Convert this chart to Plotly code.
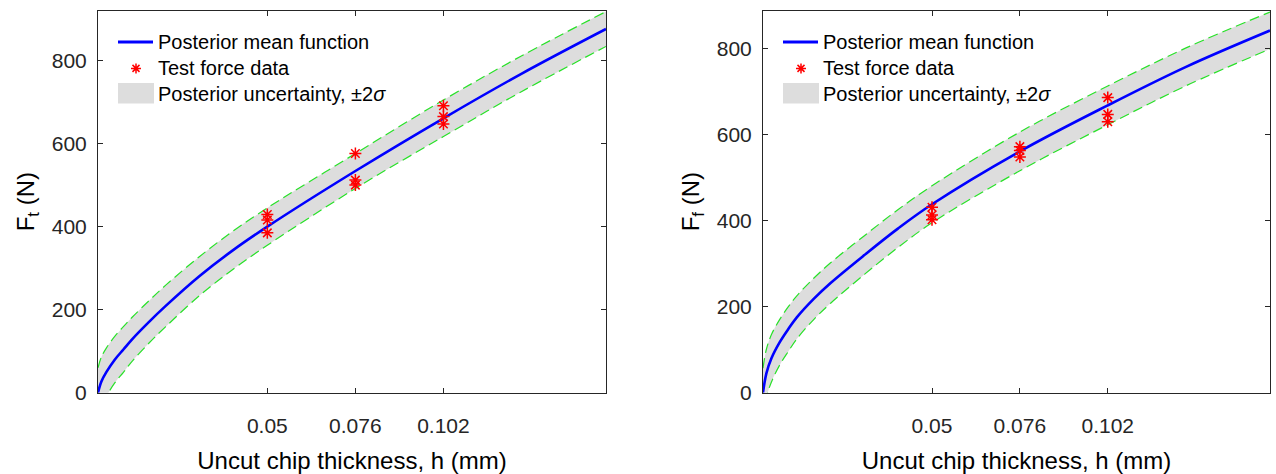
import plotly.graph_objects as go

# Uncut chip thickness (mm) at which the posterior curves are tabulated
h_grid = [0.0, 0.001, 0.0025, 0.005, 0.0075, 0.01, 0.015, 0.02, 0.03, 0.04,
          0.05, 0.076, 0.102, 0.125, 0.15]

# Tangential force Ft (N): posterior mean and 2-sigma half-width
ft_mean = [0, 27, 50, 80, 104, 128, 170, 209, 281, 344, 400, 534, 661, 768, 876]
ft_2sigma = [60, 59, 58, 56, 55, 53, 51, 50, 47, 46, 45, 42, 44, 43, 42]

# Feed force Ff (N): posterior mean and 2-sigma half-width
ff_mean = [0, 45, 80, 118, 148, 175, 218, 255, 320, 382, 438, 561, 668, 757, 842]
ff_2sigma = [57, 56, 55, 53, 52, 50, 48, 47, 45, 44, 43, 45, 45, 44, 43]

# Measured cutting forces
h_test = [0.05, 0.05, 0.05, 0.076, 0.076, 0.076, 0.102, 0.102, 0.102]
ft_test = [429, 416, 385, 576, 512, 500, 691, 665, 647]
ff_test = [431, 413, 402, 572, 563, 548, 686, 647, 630]

x_tickvals = [0.05, 0.076, 0.102]
x_ticktext = ["0.05", "0.076", "0.102"]
y_tickvals = [0, 200, 400, 600, 800]

legend_labels = ["Posterior mean function", "Test force data",
                 "Posterior uncertainty, \u00b12<i>\u03c3</i>"]

# ---- styling / layout constants (pixels) ----
W, H = 1276, 474
PANEL_X = [(98, 606), (763, 1270)]
PANEL_TOP, PANEL_BOTTOM = 11, 402
Y_MAX = [920, 888]
FONT = "Liberation Sans, Arial, Helvetica, sans-serif"
AX_COLOR = "#262626"
BAND_FILL = "rgb(221,221,221)"
BAND_EDGE = "rgb(40,225,40)"
MEAN_COLOR = "rgb(0,0,255)"
STAR_COLOR = "rgb(255,0,0)"
SMOOTH = 1.0

fig = go.Figure()

panels = [
    (ft_mean, ft_2sigma, ft_test, "F<sub>t</sub> (N)"),
    (ff_mean, ff_2sigma, ff_test, "F<sub>f</sub> (N)"),
]

shapes = []
annotations = []

for i, (mean, sig2, test, ytitle) in enumerate(panels):
    xa = "x" if i == 0 else "x2"
    ya = "y" if i == 0 else "y2"
    upper = [m + s for m, s in zip(mean, sig2)]
    lower = [m - s for m, s in zip(mean, sig2)]

    # shaded +/- 2 sigma band: lower bound, then upper bound filled down to it
    fig.add_trace(go.Scatter(
        x=h_grid, y=lower, mode="lines",
        line=dict(width=0, color=BAND_FILL, shape="spline", smoothing=SMOOTH),
        xaxis=xa, yaxis=ya, hoverinfo="skip"))
    fig.add_trace(go.Scatter(
        x=h_grid, y=upper, mode="lines", fill="tonexty", fillcolor=BAND_FILL,
        line=dict(width=0, color=BAND_FILL, shape="spline", smoothing=SMOOTH),
        xaxis=xa, yaxis=ya, hoverinfo="skip"))
    # dashed band edges
    for edge in (upper, lower):
        fig.add_trace(go.Scatter(
            x=h_grid, y=edge, mode="lines",
            line=dict(color=BAND_EDGE, width=1.2, dash="10px,5px",
                      shape="spline", smoothing=SMOOTH),
            xaxis=xa, yaxis=ya, hoverinfo="skip"))
    # posterior mean
    fig.add_trace(go.Scatter(
        x=h_grid, y=mean, mode="lines",
        line=dict(color=MEAN_COLOR, width=2.6, shape="spline", smoothing=SMOOTH),
        xaxis=xa, yaxis=ya))
    # test data
    fig.add_trace(go.Scatter(
        x=h_test, y=test, mode="markers",
        marker=dict(symbol="asterisk-open", size=10, color=STAR_COLOR,
                    line=dict(color=STAR_COLOR, width=1.5)),
        xaxis=xa, yaxis=ya))

    # legend drawn inside the axes, top-left
    ax0 = PANEL_X[i][0]
    px = lambda p: p / W
    py = lambda p: 1 - p / H
    shapes.append(dict(type="line", xref="paper", yref="paper",
                       x0=px(ax0 + 20), x1=px(ax0 + 55), y0=py(43), y1=py(43),
                       line=dict(color=MEAN_COLOR, width=3)))
    shapes.append(dict(type="path", xref="paper", yref="paper",
                       xsizemode="pixel", ysizemode="pixel",
                       xanchor=px(ax0 + 38), yanchor=py(70),
                       path="M-5,0L5,0M0,-5L0,5M-3.5,-3.5L3.5,3.5M-3.5,3.5L3.5,-3.5",
                       line=dict(color=STAR_COLOR, width=1.5)))
    shapes.append(dict(type="rect", xref="paper", yref="paper",
                       x0=px(ax0 + 20), x1=px(ax0 + 56), y0=py(106), y1=py(85),
                       fillcolor=BAND_FILL, line=dict(width=0)))
    for label, row in zip(legend_labels, (43, 70, 96)):
        annotations.append(dict(text=label, xref="paper", yref="paper",
                                x=px(ax0 + 58), y=py(row), xanchor="left",
                                yanchor="middle", showarrow=False,
                                font=dict(family=FONT, size=20, color="black")))

axis_common = dict(
    showline=True, linecolor=AX_COLOR, linewidth=1, mirror="ticks",
    ticks="inside", ticklen=5, tickwidth=1, tickcolor=AX_COLOR,
    showgrid=False, zeroline=False,
    tickfont=dict(family=FONT, size=21, color=AX_COLOR),
)

def xaxis_cfg(i):
    return dict(axis_common,
                domain=[PANEL_X[i][0] / W, PANEL_X[i][1] / W],
                range=[0, 0.15], tickvals=x_tickvals, ticktext=x_ticktext,
                ticklabelstandoff=14,
                title=dict(text="Uncut chip thickness, h (mm)", standoff=17,
                           font=dict(family=FONT, size=24, color="black")),
                anchor="y" if i == 0 else "y2")

def yaxis_cfg(i, title):
    return dict(axis_common,
                domain=[1 - PANEL_BOTTOM / H, 1 - PANEL_TOP / H],
                range=[0, Y_MAX[i]], tickvals=y_tickvals,
                ticklabelstandoff=6,
                title=dict(text=title, standoff=10,
                           font=dict(family=FONT, size=24, color="black")),
                anchor="x" if i == 0 else "x2")

fig.update_layout(
    width=W, height=H,
    margin=dict(l=0, r=0, t=0, b=0, pad=0),
    paper_bgcolor="white", plot_bgcolor="white",
    showlegend=False,
    xaxis=xaxis_cfg(0), yaxis=yaxis_cfg(0, panels[0][3]),
    xaxis2=xaxis_cfg(1), yaxis2=yaxis_cfg(1, panels[1][3]),
    shapes=shapes, annotations=annotations,
)

fig.write_html("out.html")
